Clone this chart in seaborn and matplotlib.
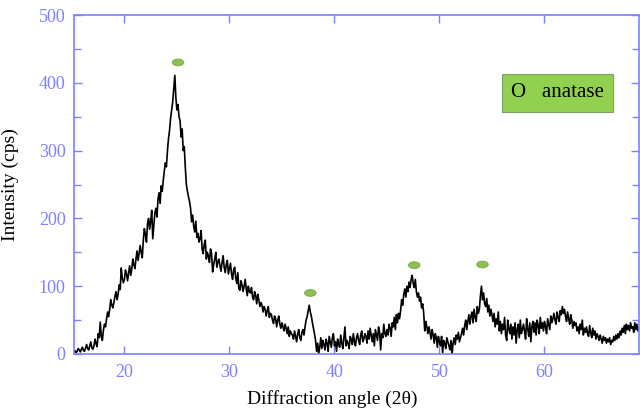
import numpy as np
import pandas as pd
import matplotlib
matplotlib.use("Agg")
import matplotlib.pyplot as plt
from matplotlib.patches import Ellipse
import seaborn as sns

# XRD scan: 2theta from 15.2 to 69.0 in 0.1 deg steps, intensity in cps
angle_start = 15.2
angle_step = 0.1
intensity = [
    3, 5, 2, 4, 8, 6, 3, 7,
    10, 5, 4, 9, 14, 8, 6, 12, 18, 9,
    7, 12, 22, 15, 11, 30, 24, 47, 26, 20,
    35, 44, 40, 52, 62, 55, 66, 80, 72, 68,
    76, 85, 92, 80, 88, 102, 95, 127, 112, 105,
    110, 124, 118, 108, 120, 130, 116, 125, 140, 132,
    126, 140, 152, 138, 148, 160, 150, 142, 168, 185,
    176, 165, 192, 200, 184, 196, 212, 170, 190, 208,
    215, 202, 228, 238, 222, 248, 240, 256, 270, 282,
    276, 300, 318, 330, 348, 360, 372, 392, 411, 378,
    360, 368, 350, 344, 320, 332, 300, 306, 275, 250,
    240, 232, 225, 215, 195, 205, 188, 180, 196, 172,
    178, 165, 170, 182, 155, 148, 162, 168, 140, 150,
    144, 135, 155, 148, 121, 132, 140, 150, 128, 136,
    140, 130, 122, 135, 145, 128, 120, 132, 138, 118,
    126, 134, 118, 110, 124, 128, 112, 104, 120, 96,
    94, 108, 102, 92, 100, 110, 96, 86, 100, 92,
    90, 98, 84, 80, 92, 86, 74, 88, 80, 70,
    76, 72, 62, 70, 66, 56, 64, 70, 54, 60,
    58, 50, 45, 56, 52, 40, 50, 56, 44, 38,
    46, 40, 34, 44, 38, 30, 40, 26, 34, 30,
    28, 22, 34, 26, 18, 30, 36, 24, 20, 32,
    36, 28, 40, 50, 55, 64, 72, 62, 56, 46,
    38, 30, 20, 4, 16, 0, 10, 24, 8, 20,
    14, 6, 22, 16, 4, 26, 18, 10, 24, 30,
    12, 18, 4, 22, 14, 10, 28, 16, 8, 24,
    40, 12, 20, 16, 8, 26, 22, 14, 30, 18,
    12, 24, 30, 20, 14, 28, 34, 18, 22, 30,
    26, 16, 34, 22, 38, 28, 18, 30, 12, 36,
    28, 20, 40, 32, 6, 30, 24, 44, 30, 26,
    36, 28, 44, 38, 26, 46, 40, 54, 36, 58,
    46, 60, 52, 64, 80, 72, 88, 96, 84, 100,
    92, 106, 98, 110, 116, 104, 98, 110, 92, 84,
    90, 78, 84, 68, 74, 60, 34, 48, 40, 30,
    40, 32, 22, 36, 28, 16, 30, 24, 10, 26,
    18, 12, 26, 2, 20, 16, 8, 24, 18, 12,
    6, 20, 0, 16, 24, 14, 28, 22, 32, 18,
    24, 30, 38, 28, 42, 50, 36, 48, 58, 44,
    56, 62, 46, 66, 54, 48, 70, 60, 66, 86,
    100, 80, 90, 74, 70, 82, 62, 72, 56, 66,
    58, 48, 60, 40, 52, 44, 62, 34, 48, 30,
    44, 36, 54, 28, 20, 50, 38, 30, 44, 22,
    40, 28, 46, 16, 36, 44, 24, 50, 30, 36,
    44, 34, 22, 52, 38, 26, 46, 18, 40, 48,
    32, 46, 28, 50, 42, 30, 54, 38, 46, 34,
    48, 40, 30, 52, 44, 36, 56, 46, 52, 60,
    50, 44, 62, 54, 48, 64, 58, 70, 60, 66,
    56, 48, 62, 52, 44, 58, 50, 38, 48, 42,
    46, 34, 40, 30, 44, 36, 50, 28, 38, 32,
    40, 30, 26, 42, 32, 24, 38, 28, 34, 22,
    30, 26, 20, 28, 22, 16, 26, 20, 24, 16,
    22, 18, 24, 14, 20, 18, 26, 20, 28, 22,
    30, 24, 34, 28, 38, 32, 42, 30, 44, 36,
    42, 34, 46, 38, 40, 32, 46, 36, 44, 34,
    40,
]

# anatase peak markers
peak_angles = [25.1, 37.7, 47.6, 54.1]
peak_heights = [430, 90, 131, 132]

axis_blue = "#8080ff"
marker_green = "#8cc152"
legend_green = "#92d050"


def main():
    sns.set_style("ticks")
    plt.rcParams["font.family"] = ["Liberation Serif", "DejaVu Serif"]

    angles = angle_start + angle_step * np.arange(len(intensity))
    df = pd.DataFrame({"angle": np.round(angles, 2), "intensity": intensity})

    fig = plt.figure(figsize=(6.4, 4.12), dpi=100)
    ax = fig.add_axes([74 / 640, 1 - 354 / 412, 565 / 640, 339 / 412])

    sns.lineplot(data=df, x="angle", y="intensity", color="black",
                 linewidth=1.2, estimator=None, ax=ax)

    for a, h in zip(peak_angles, peak_heights):
        ax.add_patch(Ellipse((a, h), width=1.1, height=10, facecolor=marker_green,
                             edgecolor="#7aa84a", linewidth=0.6, zorder=5))

    ax.set_xlim(15.2, 69.0)
    ax.set_ylim(0, 500)
    ax.set_xticks([20, 30, 40, 50, 60])
    ax.set_yticks([0, 100, 200, 300, 400, 500])
    ax.set_yticks(np.arange(50, 500, 100), minor=True)

    for s in ax.spines.values():
        s.set_visible(True)
        s.set_color(axis_blue)
        s.set_linewidth(1.2)

    ax.tick_params(axis="both", which="both", direction="in", color=axis_blue,
                   labelcolor=axis_blue, labelsize=13, top=True, right=True,
                   width=1.0)
    ax.tick_params(which="major", length=6)
    ax.tick_params(which="minor", length=5)
    ax.tick_params(axis="y", pad=6)
    ax.tick_params(axis="x", pad=7)

    ax.set_xlabel("Diffraction angle (2θ)", fontsize=14, color="black", labelpad=6)
    ax.xaxis.set_label_coords(0.457, -0.105)
    ax.set_ylabel("Intensity (cps)", fontsize=14, color="black", labelpad=6)
    ax.yaxis.set_label_coords(-0.098, 0.5)

    ax.text(0.856, 0.77, "O   anatase", transform=ax.transAxes, fontsize=15,
            ha="center", va="center", color="black",
            bbox=dict(boxstyle="square,pad=0.45", facecolor=legend_green,
                      edgecolor="#7f9f6a", linewidth=0.8))

    fig.savefig("out.png", dpi=100)
    plt.close(fig)


if __name__ == "__main__":
    main()
